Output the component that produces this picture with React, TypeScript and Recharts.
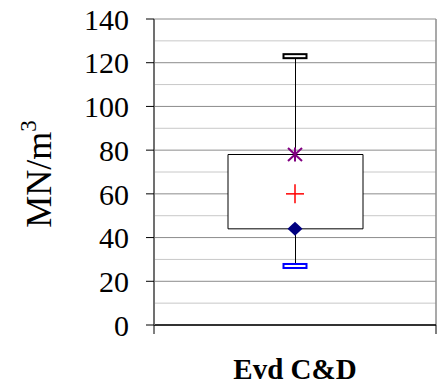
import React from "react";
import {
  ComposedChart,
  Bar,
  Scatter,
  XAxis,
  YAxis,
  CartesianGrid,
  ReferenceLine,
} from "recharts";

const categories = ["Evd C&D"];
const minValues = [27];
const q1Values = [44];
const meanValues = [60];
const q3Values = [78];
const maxValues = [123];

const yMajorTicks = [0, 20, 40, 60, 80, 100, 120, 140];
const yMinorTicks = [10, 30, 50, 70, 90, 110, 130];
const frameTicks = [0, 1];

const data = categories.map((name, i) => ({
  name,
  pos: i + 0.5,
  box: [q1Values[i], q3Values[i]],
  whisker: [minValues[i], maxValues[i]],
  min: minValues[i],
  q1: q1Values[i],
  mean: meanValues[i],
  q3: q3Values[i],
  max: maxValues[i],
}));

const serif = "'Liberation Serif', 'Times New Roman', serif";

// marker shapes
const Cap = (color: string) => (props: any) => {
  const { cx, cy } = props;
  return <rect x={cx - 11.5} y={cy - 2} width={23} height={4} fill="#fff" stroke={color} strokeWidth={2} />;
};

const Plus = (props: any) => {
  const { cx, cy } = props;
  return (
    <g stroke="#ff0000" strokeWidth={1.5}>
      <line x1={cx - 9} y1={cy} x2={cx + 9} y2={cy} />
      <line x1={cx} y1={cy - 9.5} x2={cx} y2={cy + 9.5} />
    </g>
  );
};

const Star = (props: any) => {
  const { cx, cy } = props;
  return (
    <g stroke="#800080" strokeWidth={2}>
      <line x1={cx - 7} y1={cy - 6.5} x2={cx + 7} y2={cy + 6.5} />
      <line x1={cx - 7} y1={cy + 6.5} x2={cx + 7} y2={cy - 6.5} />
      <line x1={cx} y1={cy - 7} x2={cx} y2={cy + 7} />
    </g>
  );
};

const Diamond = (props: any) => {
  const { cx, cy } = props;
  return <polygon points={`${cx},${cy - 7} ${cx + 7.5},${cy} ${cx},${cy + 7} ${cx - 7.5},${cy}`} fill="#000080" />;
};

const YTitle = () => (
  <text x={51} y={174} transform="rotate(-90 51 174)" textAnchor="middle" fontFamily={serif} fontSize={36} fill="#000">
    MN/m<tspan dy={-15} fontSize={23}>3</tspan>
  </text>
);

const XTitle = (props: any) => {
  const { viewBox } = props;
  return (
    <text
      x={viewBox.x + viewBox.width / 2}
      y={viewBox.y + 54}
      textAnchor="middle"
      fontFamily={serif}
      fontWeight="bold"
      fontSize={29}
      fill="#000"
    >
      {categories[0]}
    </text>
  );
};

export default function App() {
  return (
    <div style={{ position: "absolute", left: 0, top: 0, background: "#fff" }}>
      <ComposedChart width={440} height={384} data={data} margin={{ top: 19, right: 4, bottom: 0, left: 0 }}>
        <CartesianGrid vertical={false} horizontalValues={yMinorTicks} stroke="#c8c8c8" strokeWidth={1} yAxisId="y" />
        <CartesianGrid vertical={false} horizontalValues={yMajorTicks} stroke="#8c8c8c" strokeWidth={1} yAxisId="y" />
        <XAxis xAxisId="cat" dataKey="name" orientation="top" hide />
        <XAxis xAxisId="w" dataKey="name" orientation="top" hide />
        <XAxis
          xAxisId="frame"
          type="number"
          dataKey="pos"
          domain={[0, 1]}
          allowDataOverflow
          ticks={frameTicks}
          height={59}
          tick={() => <g />}
          tickSize={9}
          tickLine={{ stroke: "#000" }}
          axisLine={{ stroke: "#000", strokeWidth: 1.5 }}
          label={<XTitle />}
        />
        <YAxis
          yAxisId="y"
          domain={[0, 140]}
          ticks={yMajorTicks}
          width={154}
          tickSize={8}
          tickMargin={17}
          tick={{ fill: "#000", fontSize: 30, fontFamily: serif }}
          tickLine={{ stroke: "#000" }}
          axisLine={{ stroke: "#707070", strokeWidth: 2 }}
          label={<YTitle />}
        />
        <ReferenceLine xAxisId="frame" yAxisId="y" x={1} stroke="#8c8c8c" strokeWidth={1.5} />
        <Bar xAxisId="w" yAxisId="y" dataKey="whisker" barSize={1} fill="#000" isAnimationActive={false} />
        <Bar xAxisId="cat" yAxisId="y" dataKey="box" barSize={135} fill="#fff" stroke="#000" strokeWidth={1} isAnimationActive={false} />
        <Scatter xAxisId="cat" yAxisId="y" dataKey="max" shape={Cap("#000")} isAnimationActive={false} />
        <Scatter xAxisId="cat" yAxisId="y" dataKey="min" shape={Cap("#0000ff")} isAnimationActive={false} />
        <Scatter xAxisId="cat" yAxisId="y" dataKey="mean" shape={Plus} isAnimationActive={false} />
        <Scatter xAxisId="cat" yAxisId="y" dataKey="q3" shape={Star} isAnimationActive={false} />
        <Scatter xAxisId="cat" yAxisId="y" dataKey="q1" shape={Diamond} isAnimationActive={false} />
      </ComposedChart>
    </div>
  );
}
